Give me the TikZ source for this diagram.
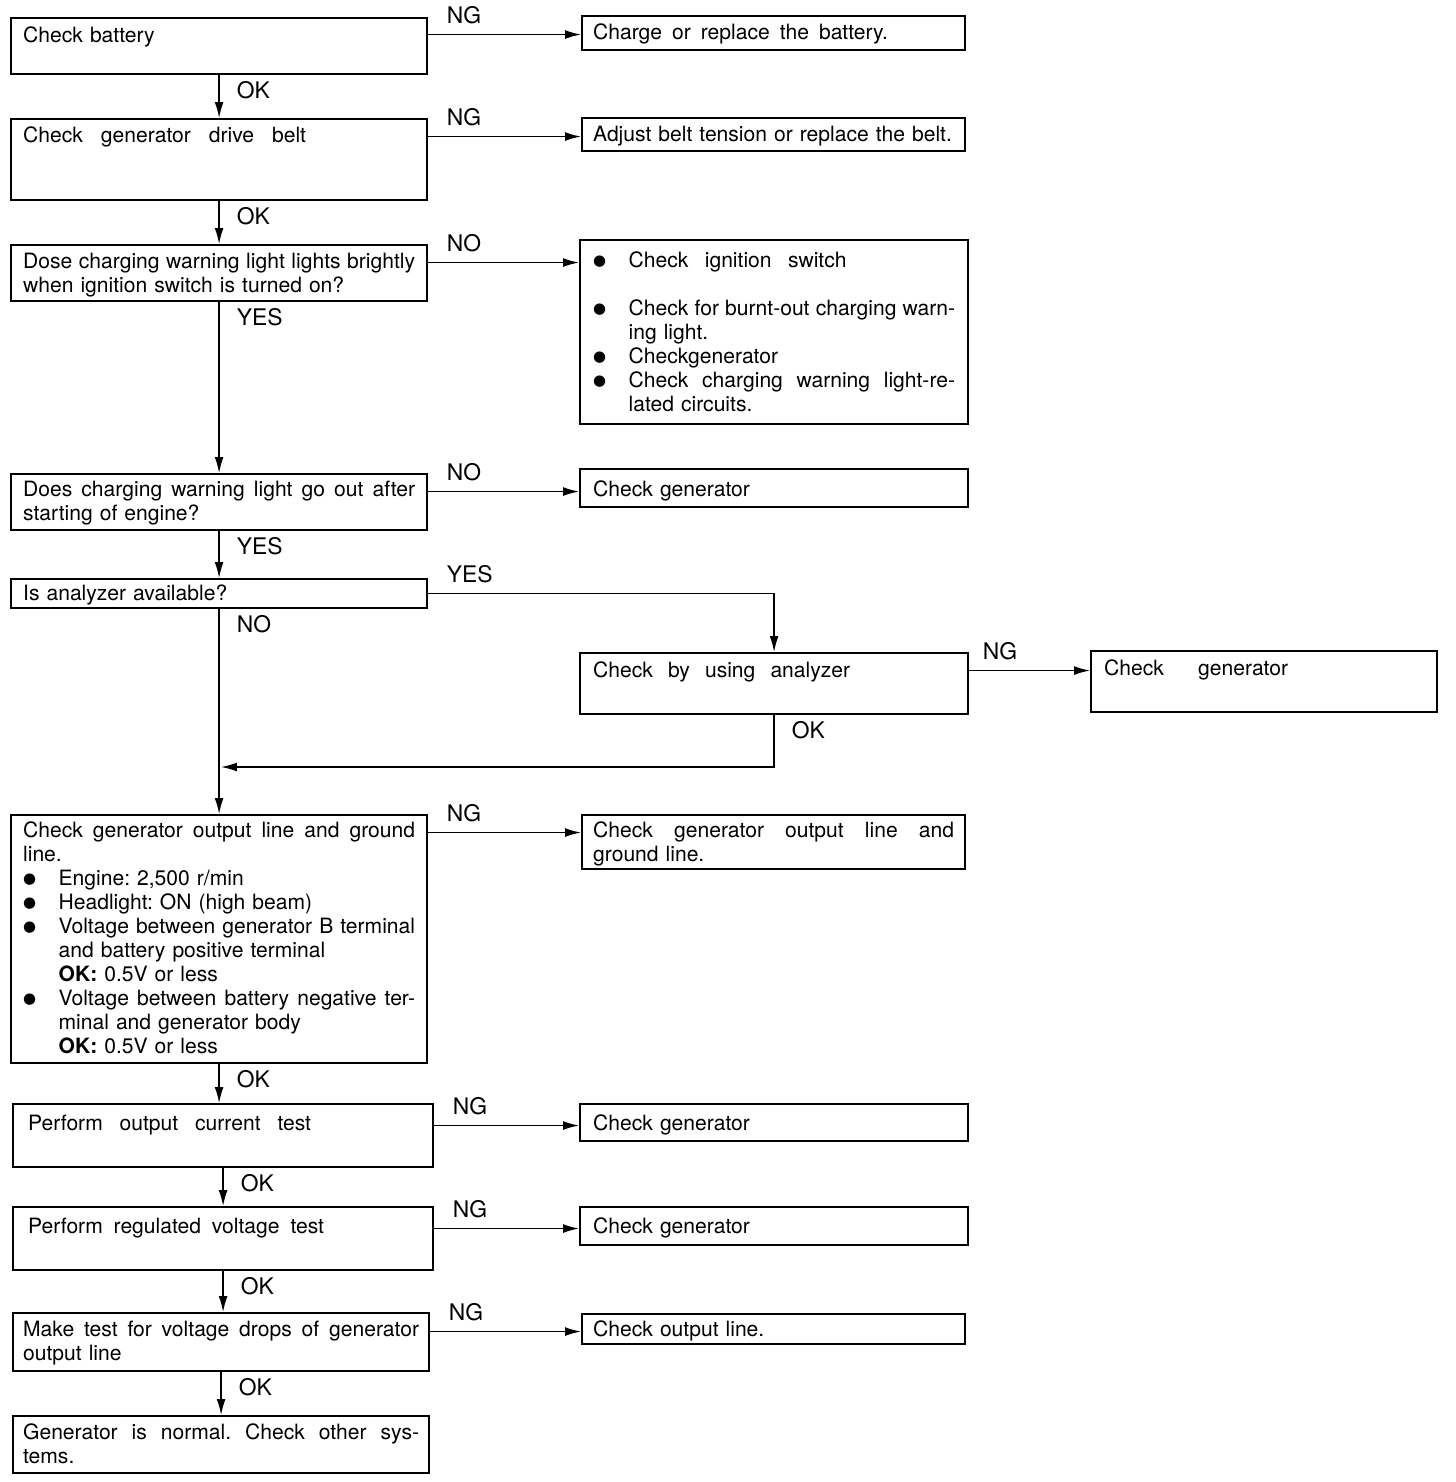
\documentclass[tikz,border=0pt]{standalone}
\usepackage{fontspec}
\setmainfont{TeX Gyre Heros}
\newfontfamily\bulfont{DejaVu Sans}
\usetikzlibrary{arrows.meta}
\frenchspacing

\newcommand{\bul}{\makebox[0.71cm][l]{\bulfont\fontsize{8.5pt}{0pt}\selectfont\raisebox{1.2pt}{●}}}
\newcommand{\ind}{\hspace*{0.71cm}}
% stretched lines (the node's fixed word space is switched off inside)
\newcommand{\wline}[2]{\makebox[#1][s]{\spaceskip=0pt\xspaceskip=0pt #2}}
\newcommand{\jline}[1]{\wline{\linewidth}{#1}}
\newcommand{\jitem}[1]{\bul\wline{\dimexpr\linewidth-0.71cm\relax}{#1}}

\tikzset{
  box/.style={draw, line width=1.3pt, anchor=north west, align=left,
    inner xsep=0.24cm, inner ysep=0pt, text width=7.84cm, text height=0.46cm,
    font=\fontsize{12pt}{13.66pt}\selectfont},
  rbox/.style={box, inner xsep=0.22cm, text width=7.22cm},
  wbox/.style={box, inner xsep=0.26cm, text width=7.24cm},
  flow/.style={line width=0.8pt, -{Latex[length=9pt,width=5pt]}},
  lbl/.style={pos=0, anchor=west, inner sep=0pt, font=\fontsize{13pt}{15pt}\selectfont},
  hl/.style={lbl, xshift=0.36cm, yshift=0.38cm},
  vl/.style={lbl, xshift=0.34cm, yshift=-0.30cm},
}

\begin{document}
\begin{tikzpicture}[x=0.02cm, y=-0.02cm]
  \useasboundingbox (0,0) rectangle (1456,1482);

  % main column
  \node[box, text height=0.48cm, text depth=0.64cm] (bat) at (10,17) {Check battery};
  \node[box, text depth=1.16cm] (belt) at (10,118) {\wline{5.66cm}{Check generator drive belt}};
  \node[box, text depth=0.66cm] (lamp) at (10,244)
    {\jline{Dose charging warning light lights brightly}\\when ignition switch is turned on?};
  \node[box, text height=0.44cm, text depth=0.68cm] (lampoff) at (10,473)
    {\jline{Does charging warning light go out after}\\starting of engine?};
  \node[box, text height=0.42cm, text depth=0.16cm] (anl) at (10,578) {Is analyzer available?};
  \node[box, text height=0.44cm, text depth=4.52cm] (outl) at (10,814)
    {\jline{Check generator output line and ground}\\
     line.\\
     \bul Engine: 2,500 r/min\\
     \bul Headlight: ON (high beam)\\
     \jitem{Voltage between generator B terminal}\\
     \ind and battery positive terminal\\
     \ind\textbf{OK:} 0.5V or less\\
     \jitem{Voltage between battery negative ter-}\\
     \ind minal and generator body\\
     \ind\textbf{OK:} 0.5V or less};
  \node[box, inner xsep=0.30cm, text width=7.8cm, text height=0.52cm, text depth=0.74cm] (curr) at (12,1103)
    {\wline{5.66cm}{Perform output current test}};
  \node[box, inner xsep=0.30cm, text width=7.8cm, text height=0.52cm, text depth=0.74cm] (volt) at (12,1206)
    {\wline{5.92cm}{Perform regulated voltage test}};
  \node[box, inner xsep=0.20cm, text width=7.92cm, text depth=0.70cm] (drop) at (12,1312)
    {\jline{Make test for voltage drops of generator}\\output line};
  \node[box, inner xsep=0.20cm, text width=7.92cm, text depth=0.68cm] (ok) at (12,1415)
    {\jline{Generator is normal. Check other sys-}\\tems.};

  % remedies on the right
  \node[rbox, text depth=0.22cm] (chg) at (581,15) {\wline{5.9cm}{Charge or replace the battery.}};
  \node[rbox, text depth=0.20cm] (adj) at (581,117) {Adjust belt tension or replace the belt.};
  \node[wbox, text height=0.54cm, text depth=3.14cm] (lampchk) at (579,239)
    {\bul\wline{4.36cm}{Check ignition switch}\\[13.66pt]
     \jitem{Check for burnt-out charging warn-}\\
     \ind ing light.\\
     \bul Checkgenerator\\
     \jitem{Check charging warning light-re-}\\
     \ind lated circuits.};
  \node[wbox, text height=0.54cm, text depth=0.22cm] (gen1) at (579,468) {Check generator};
  \node[wbox, text height=0.48cm, text depth=0.74cm] (ana) at (579,652) {\wline{5.14cm}{Check by using analyzer}};
  \node[box, inner xsep=0.26cm, text width=6.4cm, text height=0.48cm, text depth=0.74cm] (gen2) at (1090,650)
    {\wline{3.68cm}{Check generator}};
  \node[rbox, text height=0.44cm, text depth=0.64cm] (gnd) at (581,814)
    {\jline{Check generator output line and}\\ground line.};
  \node[wbox, text height=0.52cm, text depth=0.22cm] (gen3) at (579,1103) {Check generator};
  \node[wbox, text height=0.52cm, text depth=0.24cm] (gen4) at (579,1206) {Check generator};
  \node[rbox, text height=0.44cm, text depth=0.16cm] (outchk) at (581,1313) {Check output line.};
  \coordinate (join) at (221,767);

  % downward flow
  \draw[flow] (bat.south) -- node[vl]{OK} (belt.north);
  \draw[flow] (belt.south) -- node[vl]{OK} (lamp.north);
  \draw[flow] (lamp.south) -- node[vl]{YES} (lampoff.north);
  \draw[flow] (lampoff.south) -- node[vl]{YES} (anl.north);
  \draw[flow] (anl.south) -- node[vl]{NO} (outl.north);
  \draw[flow] (outl.south) -- node[vl]{OK} (outl.south |- curr.north);
  \draw[flow] (curr.south) -- node[vl]{OK} (volt.north);
  \draw[flow] (volt.south) -- node[vl]{OK} (volt.south |- drop.north);
  \draw[flow] (drop.south) -- node[vl]{OK} (drop.south |- ok.north);

  % side branches
  \draw[flow] (bat.east |- chg.mid west) -- node[hl]{NG} (chg.mid west);
  \draw[flow] (belt.east |- adj.mid west) -- node[hl]{NG} (adj.mid west);
  \draw[flow] (lamp.east |- lampchk.mid west) -- node[hl]{NO} (lampchk.mid west);
  \draw[flow] (lampoff.east |- gen1.mid west) -- node[hl]{NO} (gen1.mid west);
  \draw[flow] (anl.east) -| node[hl]{YES} (ana.north);
  \draw[flow] (ana.east |- gen2.mid west) -- node[hl, xshift=-0.1cm]{NG} (gen2.mid west);
  \draw[flow] (ana.south) |- node[vl]{OK} (join);
  \draw[flow] (outl.east |- gnd.mid west) -- node[hl]{NG} (gnd.mid west);
  \draw[flow] (curr.east |- gen3.mid west) -- node[hl]{NG} (gen3.mid west);
  \draw[flow] (volt.east |- gen4.mid west) -- node[hl]{NG} (gen4.mid west);
  \draw[flow] (drop.east |- outchk.mid west) -- node[hl]{NG} (outchk.mid west);
\end{tikzpicture}
\end{document}
